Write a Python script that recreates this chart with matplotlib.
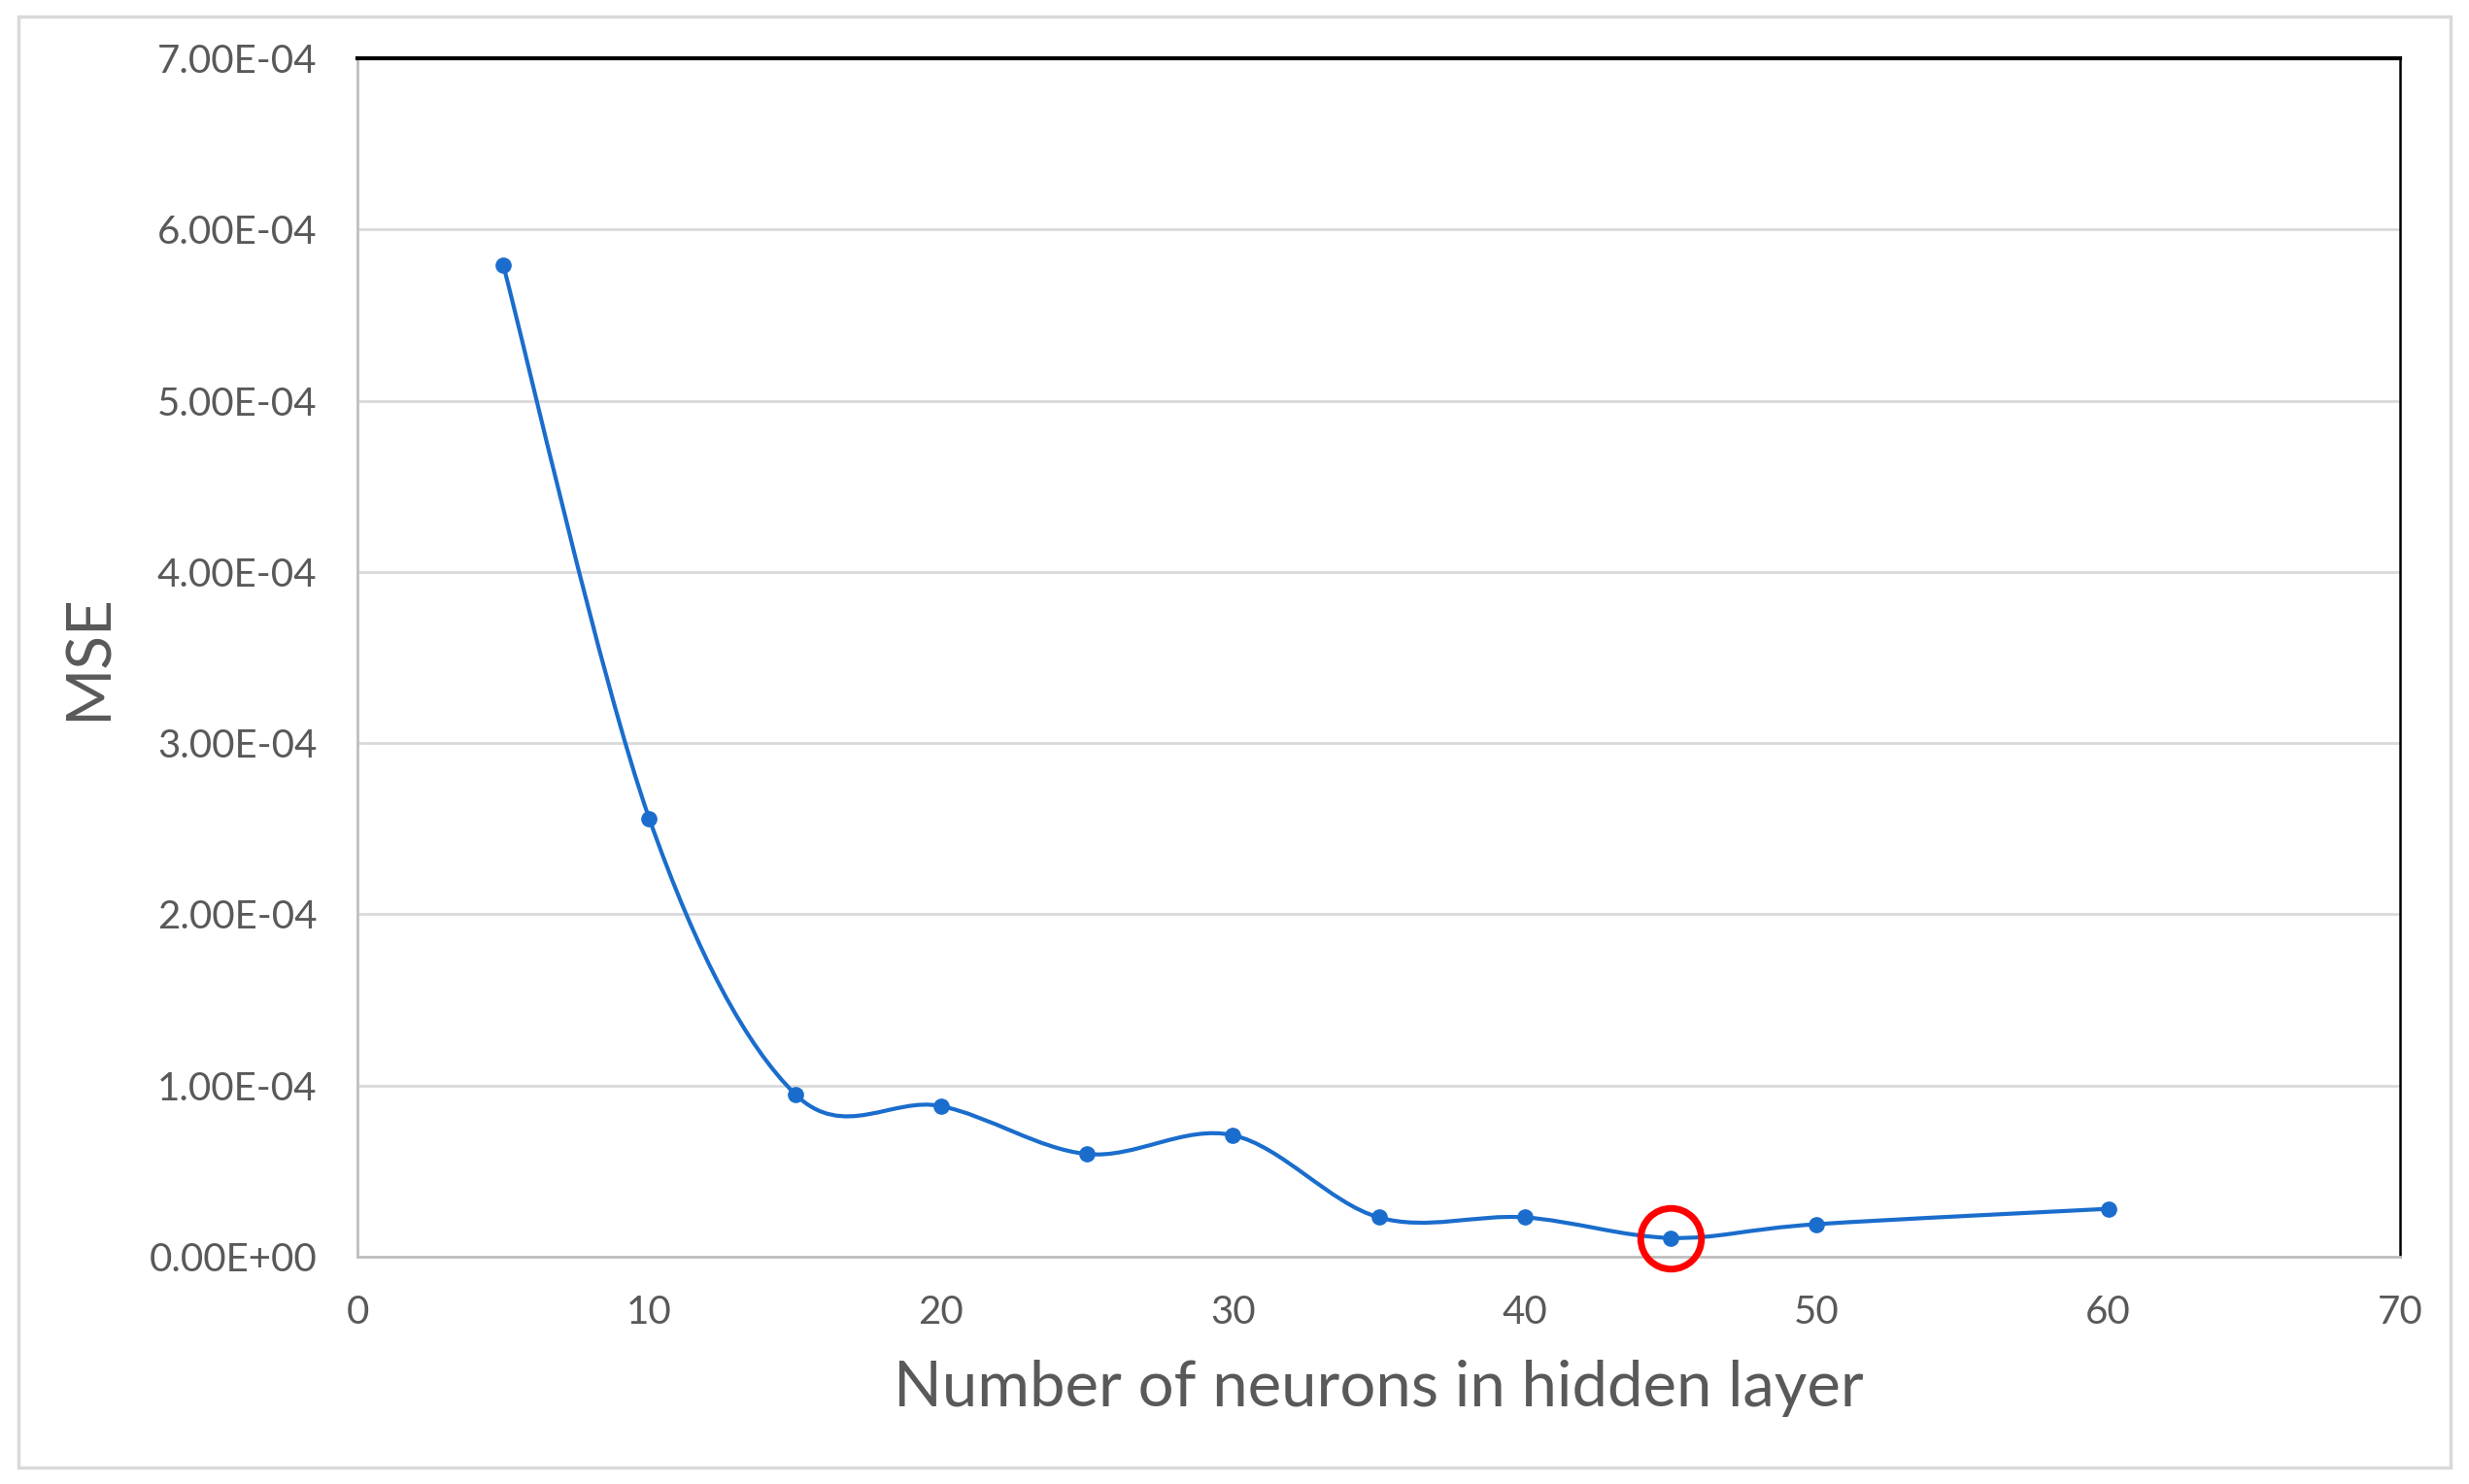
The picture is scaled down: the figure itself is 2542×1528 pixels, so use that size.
import numpy as np
import matplotlib.pyplot as plt
from matplotlib.path import Path
from matplotlib.patches import PathPatch, Rectangle

# data
neurons = [5, 10, 15, 20, 25, 30, 35, 40, 45, 50, 60]
mse = [5.79e-4, 2.56e-4, 0.95e-4, 0.88e-4, 0.60e-4, 0.71e-4,
       0.23e-4, 0.23e-4, 0.11e-4, 0.19e-4, 0.28e-4]
best_n = 45
best_mse = 0.11e-4

x_ticks = [0, 10, 20, 30, 40, 50, 60, 70]
y_ticks = [0, 1e-4, 2e-4, 3e-4, 4e-4, 5e-4, 6e-4, 7e-4]

plt.rcParams['font.family'] = ['Lato', 'DejaVu Sans']
txt = '#595959'
blue = '#1a6dcc'

fig = plt.figure(figsize=(25.42, 15.28), dpi=100)
ax = fig.add_axes([368/2542, 1-1294/1528, (2471-368)/2542, (1294-60)/1528])

# smooth line like Excel (Catmull-Rom as cubic bezier segments)
x = np.array(neurons, float)
y = np.array(mse, float)
px = np.concatenate([[x[0]], x, [x[-1]]])
py = np.concatenate([[y[0]], y, [y[-1]]])
verts = [(x[0], y[0])]
codes = [Path.MOVETO]
for i in range(1, len(x)):
    c1 = (px[i] + (px[i+1]-px[i-1])/6, py[i] + (py[i+1]-py[i-1])/6)
    c2 = (px[i+1] - (px[i+2]-px[i])/6, py[i+1] - (py[i+2]-py[i])/6)
    verts += [c1, c2, (x[i], y[i])]
    codes += [Path.CURVE4]*3
ax.add_patch(PathPatch(Path(verts, codes), facecolor='none', edgecolor=blue, lw=3, zorder=3))
ax.plot(neurons, mse, 'o', color=blue, ms=11, zorder=4)
ax.plot([best_n], [best_mse], 'o', ms=45, mfc='none', mec='#ff0000', mew=5, zorder=5, clip_on=False)

ax.set_xlim(0, 70)
ax.set_ylim(0, 7e-4)
ax.set_xticks(x_ticks)
ax.set_yticks(y_ticks)
ax.set_yticklabels(['%.2E' % v for v in y_ticks])
ax.tick_params(length=0, labelsize=29, colors=txt)
ax.tick_params(axis='x', pad=28)
ax.tick_params(axis='y', pad=30)
ax.grid(axis='y', color='#d9d9d9', lw=2)
ax.set_axisbelow(True)
for s in ['left', 'bottom']:
    ax.spines[s].set_color('#bfbfbf')
    ax.spines[s].set_linewidth(2)
ax.spines['top'].set_color('black')
ax.spines['top'].set_linewidth(3)
ax.spines['right'].set_color('black')
ax.spines['right'].set_linewidth(1.8)

ax.set_xlabel('Number of neurons in hidden layer', fontsize=47, color=txt, labelpad=22)
ax.set_ylabel('MSE', fontsize=46, color=txt, labelpad=24)

fig.patches.append(Rectangle((19/2542, 17/1528), (2523-19)/2542, (1511-17)/1528,
                             transform=fig.transFigure, fill=False, ec='#d9d9d9', lw=2.5))

fig.savefig('out.png', dpi=100, facecolor='white')
